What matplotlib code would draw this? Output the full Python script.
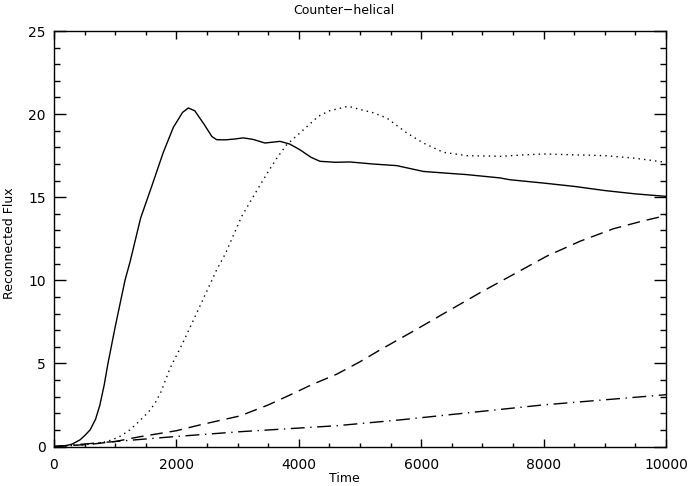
import matplotlib
matplotlib.use("Agg")
import matplotlib.pyplot as plt
from matplotlib.ticker import MultipleLocator

# values
t_solid = [0, 200, 300, 425, 500, 590, 680, 750, 820, 882, 1000, 1160, 1242, 1416, 1596,
           1786, 1950, 2100, 2195, 2300, 2450, 2580, 2658, 2800, 2950, 3093, 3250, 3448,
           3693, 3850, 4020, 4200, 4346, 4600, 4837, 5200, 5600, 6035, 6400, 6743, 7288,
           7451, 8000, 8500, 9000, 9500, 10000]
f_solid = [0, 0.05, 0.15, 0.4, 0.65, 1.0, 1.65, 2.5, 3.7, 5.0, 7.2, 10.0, 11.1, 13.75, 15.65,
           17.7, 19.2, 20.1, 20.37, 20.2, 19.4, 18.65, 18.46, 18.45, 18.5, 18.57, 18.48, 18.26,
           18.36, 18.2, 17.85, 17.4, 17.16, 17.1, 17.12, 17.0, 16.9, 16.55, 16.45, 16.36, 16.16,
           16.05, 15.85, 15.65, 15.4, 15.2, 15.05]

t_dot = [0, 500, 800, 950, 1100, 1240, 1400, 1550, 1650, 1750, 1895, 2100, 2331, 2658,
         2800, 3066, 3250, 3420, 3502, 3650, 3802, 4047, 4320, 4500, 4809, 5010, 5200, 5436,
         5763, 6035, 6362, 6743, 7288, 7700, 7995, 8500, 9000, 9460, 10000]
f_dot = [0, 0.1, 0.25, 0.4, 0.65, 1.0, 1.55, 2.1, 2.6, 3.3, 4.7, 6.2, 8.02, 10.63,
         11.6, 13.84, 15.0, 16.05, 16.55, 17.4, 18.16, 18.96, 19.87, 20.2, 20.47, 20.27, 20.1,
         19.77, 18.87, 18.26, 17.7, 17.5, 17.46, 17.55, 17.6, 17.55, 17.5, 17.36, 17.1]

t_dash = [0, 588, 1000, 1405, 2000, 2386, 3039, 3500, 3856, 4200, 4619, 5000, 5327, 5900,
          6416, 6961, 7505, 8050, 8595, 9139, 9600, 10000]
f_dash = [0, 0.13, 0.3, 0.59, 0.95, 1.3, 1.84, 2.5, 3.1, 3.7, 4.35, 5.1, 5.81, 7.0,
          8.1, 9.25, 10.35, 11.45, 12.35, 13.1, 13.55, 13.9]

t_dd = [0, 1000, 1950, 3039, 4619, 5654, 7990, 9950, 10000]
f_dd = [0, 0.3, 0.59, 0.89, 1.25, 1.6, 2.5, 3.1, 3.12]

plt.rcParams['font.family'] = ['DejaVu Sans']
fig = plt.figure(figsize=(6.88, 4.86), dpi=100)
ax = fig.add_axes([54 / 688, (486 - 446.5) / 486, 612 / 688, 415.5 / 486])

lw = 1.0
ax.plot(t_solid, f_solid, color='black', lw=lw)
ax.plot(t_dot, f_dot, color='black', lw=lw, linestyle=(0, (1, 3)))
ax.plot(t_dash, f_dash, color='black', lw=lw, linestyle=(0, (9, 5)))
ax.plot(t_dd, f_dd, color='black', lw=lw, linestyle=(0, (10, 4, 1, 4)))

ax.set_xlim(0, 10000)
ax.set_ylim(0, 25)
ax.xaxis.set_major_locator(MultipleLocator(2000))
ax.xaxis.set_minor_locator(MultipleLocator(500))
ax.yaxis.set_major_locator(MultipleLocator(5))
ax.yaxis.set_minor_locator(MultipleLocator(1))
ax.tick_params(axis='x', which='both', direction='in', top=True, labelsize=10, pad=8, width=1)
ax.tick_params(axis='y', which='both', direction='in', right=True, labelsize=10, pad=6, width=1)
ax.tick_params(axis='x', which='major', length=6)
ax.tick_params(axis='x', which='minor', length=3)
ax.tick_params(axis='y', which='major', length=8.5)
ax.tick_params(axis='y', which='minor', length=4.3)
for s in ax.spines.values():
    s.set_linewidth(1.0)

# title and labels are centred on the figure, IDL style
fig.text(0.5, 1 - 10 / 486, "Counter\u2212helical", fontsize=9, ha='center', va='center')
fig.text(0.5, 1 - 478 / 486, "Time", fontsize=9, ha='center', va='center')
fig.text(10 / 688, 0.5, "Reconnected Flux", fontsize=9, ha='center', va='center',
         rotation=90)

fig.savefig("out.png", dpi=100)
